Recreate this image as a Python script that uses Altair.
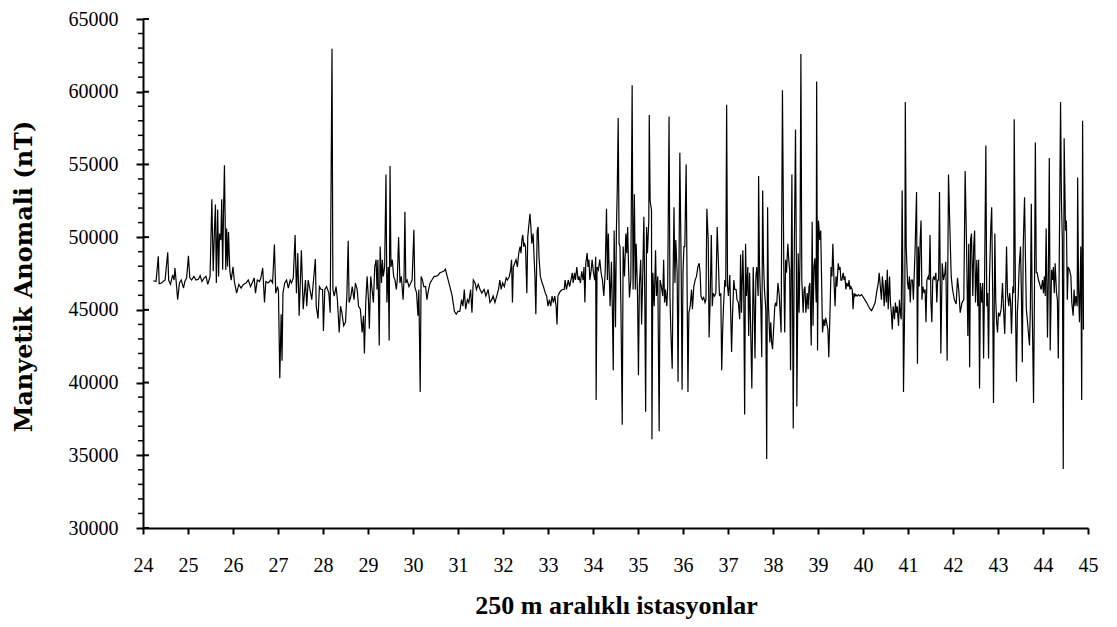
import altair as alt
import pandas as pd

# (station, anomaly nT), one list per stretch of the profile
seg_24_27 = [
    (24.23, 47000), (24.29, 46950), (24.34, 48680), (24.36, 46800), (24.41, 46850), (24.49, 47050),
    (24.55, 48950), (24.57, 47050), (24.61, 46750), (24.66, 47400), (24.69, 47050), (24.71, 47880),
    (24.74, 46850), (24.77, 45700), (24.81, 46850), (24.85, 47050), (24.90, 46500), (24.93, 46950),
    (24.97, 47200), (25.01, 48720), (25.04, 47200), (25.08, 47050), (25.13, 47300), (25.18, 47050),
    (25.23, 47100), (25.27, 47350), (25.31, 46950), (25.36, 47200), (25.40, 47300), (25.44, 46750),
    (25.49, 47300), (25.53, 52600), (25.56, 47650), (25.59, 50700), (25.61, 52250), (25.63, 46850),
    (25.66, 51900), (25.68, 47300), (25.70, 50250), (25.73, 49800), (25.75, 52600), (25.77, 47750),
    (25.79, 51850), (25.81, 54950), (25.84, 47750), (25.86, 50600), (25.88, 47980), (25.90, 50350),
    (25.93, 47650), (25.96, 47050), (26.00, 47950), (26.03, 46950), (26.08, 46150), (26.13, 46750),
    (26.18, 46500), (26.23, 46750), (26.29, 46850), (26.34, 47050), (26.39, 46600), (26.44, 46950),
    (26.47, 47200), (26.50, 46150), (26.54, 47050), (26.59, 46950), (26.62, 47200), (26.66, 47880),
    (26.70, 45500), (26.73, 46950), (26.78, 46850), (26.84, 47050), (26.88, 46850), (26.92, 49500),
    (26.95, 46150), (26.99, 46600), (27.01, 46300), (27.04, 40300), (27.07, 44700), (27.09, 41500),
    (27.11, 46150), (27.15, 46850), (27.19, 47050), (27.23, 46500), (27.27, 47050), (27.30, 46850),
    (27.34, 47200), (27.38, 50150), (27.41, 46150), (27.44, 48900), (27.47, 44600), (27.52, 49100),
    (27.56, 45050),
]

seg_27_31 = [
    (27.61, 47050), (27.64, 45250), (27.67, 47050), (27.71, 46400), (27.75, 45700), (27.79, 47050),
    (27.83, 48500), (27.85, 45250), (27.89, 44400), (27.92, 46600), (27.96, 46400), (27.99, 46400),
    (28.01, 43550), (28.04, 46400), (28.08, 46600), (28.13, 46150), (28.16, 44800), (28.20, 62950),
    (28.22, 46400), (28.25, 45950), (28.29, 46600), (28.32, 45700), (28.36, 43450), (28.39, 45250),
    (28.42, 44800), (28.46, 43900), (28.50, 44150), (28.53, 45950), (28.56, 49750), (28.58, 45500),
    (28.62, 45950), (28.65, 46600), (28.69, 45700), (28.72, 46850), (28.76, 46400), (28.79, 45250),
    (28.83, 45050), (28.87, 43450), (28.90, 44600), (28.92, 42000), (28.95, 45500), (28.98, 47300),
    (29.01, 45700), (29.03, 43700), (29.06, 47300), (29.09, 46400), (29.12, 45500), (29.15, 47950),
    (29.18, 48450), (29.20, 46400), (29.22, 48450), (29.25, 42550), (29.27, 49350), (29.30, 46850),
    (29.32, 48450), (29.34, 47300), (29.37, 47950), (29.40, 54300), (29.42, 45500), (29.45, 47950),
    (29.47, 42900), (29.49, 54900), (29.51, 47950), (29.54, 48450), (29.57, 47300), (29.60, 47050),
    (29.63, 46400), (29.65, 47050), (29.68, 50000), (29.71, 46850), (29.74, 47300), (29.78, 45700),
    (29.80, 47050), (29.82, 51750), (29.84, 46850), (29.87, 47050), (29.91, 46600), (29.95, 46850),
    (29.98, 47050), (30.02, 50500), (30.04, 46600), (30.08, 46150), (30.11, 44600), (30.13, 46400),
    (30.16, 39350), (30.18, 47300), (30.21, 47050), (30.24, 46600), (30.28, 46600), (30.31, 45700),
    (30.34, 46300), (30.38, 46850), (30.42, 47050), (30.47, 47300), (30.51, 47300), (30.56, 47400),
    (30.60, 47550), (30.64, 47600), (30.68, 47650), (30.72, 47800), (30.76, 47300), (30.82, 46600),
    (30.87, 45950), (30.92, 44900), (30.96, 44700), (31.00, 44900),
]

seg_31_34 = [
    (31.04, 44900), (31.08, 45700), (31.11, 45250), (31.14, 46400), (31.17, 45050), (31.21, 45700),
    (31.24, 45500), (31.28, 46400), (31.31, 44800), (31.34, 47050), (31.38, 46850), (31.41, 46400),
    (31.45, 46750), (31.49, 46400), (31.53, 46150), (31.58, 46400), (31.62, 45950), (31.67, 46400),
    (31.71, 45500), (31.75, 45700), (31.78, 45950), (31.82, 45500), (31.86, 45950), (31.90, 46400),
    (31.93, 47050), (31.96, 46400), (31.99, 46850), (32.03, 46600), (32.07, 47200), (32.10, 47050),
    (32.14, 47300), (32.17, 47750), (32.19, 48450), (32.21, 45500), (32.23, 47950), (32.26, 48200),
    (32.29, 48450), (32.32, 47950), (32.35, 48900), (32.38, 49350), (32.40, 48900), (32.42, 49800),
    (32.44, 50150), (32.46, 49350), (32.48, 49550), (32.50, 49350), (32.53, 46150), (32.55, 50000),
    (32.57, 50700), (32.60, 51600), (32.62, 50700), (32.64, 49550), (32.67, 50250), (32.69, 48650),
    (32.71, 47300), (32.73, 44700), (32.76, 50450), (32.78, 50700), (32.80, 48650), (32.83, 47300),
    (32.87, 46850), (32.90, 46600), (32.94, 46150), (32.97, 45950), (33.00, 45250), (33.03, 45700),
    (33.06, 45250), (33.09, 45950), (33.12, 45500), (33.15, 45950), (33.18, 45250), (33.20, 44000),
    (33.22, 45950), (33.25, 46150), (33.28, 46300), (33.32, 46400), (33.36, 46400), (33.38, 47050),
    (33.41, 46400), (33.45, 47050), (33.48, 46600), (33.51, 47050), (33.54, 47550), (33.56, 46850),
    (33.59, 47550), (33.61, 47050), (33.64, 47950), (33.67, 47050), (33.69, 47300), (33.72, 46850),
    (33.75, 47650), (33.78, 47050), (33.80, 47950), (33.82, 45500), (33.84, 48200), (33.87, 48900),
    (33.89, 47950), (33.91, 48450), (33.93, 47050), (33.96, 47750), (33.98, 48450), (34.01, 47550),
    (34.04, 47050), (34.06, 48650), (34.07, 38800), (34.09, 47950), (34.12, 47750), (34.15, 48450),
    (34.18, 47550), (34.21, 47050), (34.24, 45950), (34.27, 47550), (34.30, 51950), (34.32, 47050),
    (34.34, 50250), (34.36, 47550), (34.38, 45250), (34.41, 48300), (34.43, 45050), (34.45, 40850),
    (34.47, 50450), (34.50, 43800), (34.52, 50450), (34.54, 53400), (34.56, 58200), (34.58, 49550),
]

seg_34_38 = [
    (34.60, 49350), (34.62, 45250), (34.65, 37100), (34.67, 49350), (34.70, 47300), (34.73, 50250),
    (34.75, 48900), (34.77, 50700), (34.79, 47950), (34.81, 45850), (34.84, 47050), (34.87, 60450),
    (34.89, 46400), (34.92, 52950), (34.94, 46400), (34.96, 49550), (34.99, 45950), (35.01, 40500),
    (35.03, 46600), (35.06, 48450), (35.08, 44000), (35.10, 46600), (35.13, 51400), (35.15, 46150),
    (35.17, 38000), (35.19, 50700), (35.21, 48900), (35.24, 51150), (35.25, 58400), (35.27, 52500),
    (35.30, 51850), (35.31, 36100), (35.33, 47550), (35.36, 45250), (35.39, 49100), (35.41, 45950),
    (35.44, 47300), (35.47, 36650), (35.49, 47050), (35.52, 46600), (35.55, 45950), (35.57, 48450),
    (35.59, 45500), (35.61, 46400), (35.64, 45250), (35.66, 46600), (35.69, 58300), (35.71, 45950),
    (35.73, 43550), (35.76, 40950), (35.78, 47300), (35.80, 52050), (35.82, 46850), (35.84, 49800),
    (35.87, 47550), (35.89, 40050), (35.91, 47550), (35.93, 55800), (35.96, 47550), (35.98, 39500),
    (36.00, 47550), (36.02, 49350), (36.04, 49350), (36.07, 55000), (36.09, 47050), (36.11, 39350),
    (36.13, 44800), (36.16, 45250), (36.19, 46400), (36.21, 45050), (36.24, 46600), (36.27, 47050),
    (36.30, 47300), (36.33, 47950), (36.36, 48200), (36.38, 47550), (36.40, 45950), (36.43, 45700),
    (36.46, 45850), (36.49, 45500), (36.51, 45700), (36.53, 51950), (36.56, 49800), (36.58, 43100),
    (36.60, 45250), (36.63, 50150), (36.65, 45250), (36.67, 46150), (36.70, 45950), (36.73, 46150),
    (36.76, 50700), (36.79, 47950), (36.81, 45950), (36.84, 46150), (36.86, 40850), (36.88, 43450),
    (36.90, 45250), (36.93, 47050), (36.95, 46600), (36.97, 59100), (36.99, 46600), (37.01, 45950),
    (37.04, 47400), (37.06, 44800), (37.08, 42100), (37.10, 44600), (37.13, 47050), (37.15, 46400),
    (37.18, 46400), (37.20, 45700), (37.23, 45500), (37.26, 44350), (37.28, 48800), (37.30, 44800),
    (37.33, 49100), (37.35, 46150), (37.37, 37800), (37.39, 49550), (37.41, 45950), (37.44, 47950),
    (37.46, 43200), (37.48, 47550), (37.51, 42750), (37.53, 39600), (37.56, 47950), (37.58, 45250),
    (37.60, 41650), (37.62, 47300), (37.64, 47950), (37.67, 45950), (37.68, 54200), (37.70, 47950),
    (37.73, 45250), (37.75, 41750), (37.77, 53200), (37.79, 48200), (37.81, 46400), (37.84, 45050),
    (37.86, 34750), (37.88, 52050), (37.90, 45250), (37.93, 42750), (37.95, 44150), (37.97, 42750),
    (37.99, 42300), (38.01, 43450), (38.04, 45250), (38.06, 45500), (38.08, 45250), (38.11, 46850),
    (38.14, 45950),
]

seg_38_41 = [
    (38.18, 43450), (38.21, 60100), (38.24, 47950), (38.26, 43450), (38.28, 48450), (38.30, 47550),
    (38.33, 49550), (38.35, 48450), (38.37, 47750), (38.39, 40850), (38.42, 54300), (38.44, 42550),
    (38.45, 36850), (38.47, 47950), (38.50, 57400), (38.52, 47950), (38.53, 38350), (38.56, 48900),
    (38.58, 44800), (38.60, 48650), (38.62, 62600), (38.64, 47050), (38.67, 44800), (38.69, 46400),
    (38.71, 46600), (38.73, 44800), (38.76, 46150), (38.78, 45050), (38.80, 46600), (38.82, 46850),
    (38.85, 42550), (38.87, 51050), (38.89, 43900), (38.91, 47950), (38.93, 48550), (38.96, 45500),
    (38.97, 60700), (38.99, 42200), (39.01, 51150), (39.04, 49800), (39.06, 50450), (39.08, 47050),
    (39.10, 43450), (39.13, 44350), (39.15, 43900), (39.17, 44450), (39.19, 44150), (39.22, 43650),
    (39.24, 41750), (39.27, 45250), (39.29, 47950), (39.31, 47300), (39.33, 49550), (39.36, 46600),
    (39.38, 45250), (39.40, 47300), (39.42, 46600), (39.45, 48200), (39.47, 47750), (39.49, 47950),
    (39.51, 47050), (39.53, 47050), (39.56, 47550), (39.58, 47050), (39.60, 47300), (39.62, 46400),
    (39.64, 46850), (39.67, 46600), (39.69, 47050), (39.71, 46400), (39.73, 46600), (39.76, 46400),
    (39.78, 45050), (39.80, 46150), (39.82, 45950), (39.84, 46050), (39.87, 45950), (39.90, 46050),
    (39.93, 45950), (39.97, 46050), (40.01, 45850), (40.04, 45700), (40.08, 45500), (40.12, 45250),
    (40.16, 45050), (40.19, 44950), (40.23, 45200), (40.27, 45500), (40.30, 46150), (40.34, 46850),
    (40.36, 47550), (40.39, 46400), (40.41, 45700), (40.43, 47300), (40.45, 46600), (40.47, 45250),
    (40.50, 47050), (40.52, 45500), (40.54, 47750), (40.56, 45050), (40.59, 47300), (40.61, 45500),
    (40.63, 44800), (40.65, 43650), (40.67, 45250), (40.70, 44350), (40.72, 45500), (40.74, 44800),
    (40.76, 45250), (40.79, 43900), (40.81, 45700), (40.83, 44800), (40.85, 44350), (40.87, 53200),
    (40.89, 45500), (40.90, 39350), (40.93, 46150), (40.94, 59300), (40.96, 49350), (40.99, 46850),
    (41.01, 46400), (41.03, 47300), (41.05, 45500), (41.07, 47050), (41.10, 47050), (41.12, 45700),
    (41.14, 47550), (41.16, 49350), (41.19, 53100), (41.21, 41300), (41.23, 49350), (41.25, 46600),
    (41.27, 49800), (41.29, 51150), (41.31, 45700), (41.33, 46600), (41.36, 46150), (41.38, 46400),
    (41.40, 44150), (41.42, 47050), (41.45, 47300), (41.47, 47050), (41.49, 50150), (41.51, 45500),
    (41.53, 44150), (41.55, 47050), (41.57, 47300), (41.59, 47050), (41.62, 47550), (41.64, 45500),
    (41.66, 47050), (41.68, 47050), (41.70, 53100), (41.73, 42000), (41.76, 48200), (41.79, 47050),
    (41.82, 47550),
]

seg_41_45 = [
    (41.84, 48300), (41.87, 41500), (41.90, 54300), (41.93, 50700), (41.96, 47300), (41.99, 46400),
    (42.03, 45700), (42.07, 45400), (42.10, 47200), (42.13, 46300), (42.16, 44800), (42.20, 45500),
    (42.24, 45700), (42.27, 54550), (42.30, 49550), (42.33, 43200), (42.35, 49550), (42.37, 41050),
    (42.39, 49800), (42.41, 50250), (42.44, 45950), (42.46, 49350), (42.48, 50450), (42.50, 45500),
    (42.53, 48450), (42.55, 45250), (42.57, 48450), (42.59, 39600), (42.61, 46850), (42.64, 45500),
    (42.66, 46850), (42.68, 41650), (42.70, 46600), (42.73, 56300), (42.75, 45250), (42.77, 46150),
    (42.79, 41650), (42.81, 47050), (42.84, 50700), (42.86, 52050), (42.88, 46600), (42.90, 38600),
    (42.93, 50250), (42.95, 45700), (42.97, 44150), (42.99, 43450), (43.01, 44800), (43.04, 44600),
    (43.07, 45050), (43.10, 46850), (43.12, 45250), (43.15, 43350), (43.17, 46150), (43.19, 49350),
    (43.21, 46150), (43.24, 45250), (43.26, 46150), (43.28, 45500), (43.30, 43350), (43.33, 46600),
    (43.35, 46150), (43.36, 58100), (43.39, 45050), (43.41, 40050), (43.43, 44800), (43.45, 45950),
    (43.47, 47950), (43.50, 49350), (43.52, 46150), (43.54, 41400), (43.56, 49350), (43.59, 52750),
    (43.61, 48550), (43.63, 45050), (43.65, 44350), (43.67, 43650), (43.70, 42550), (43.72, 45250),
    (43.74, 52300), (43.76, 45250), (43.79, 38600), (43.81, 46150), (43.83, 56500), (43.85, 47550),
    (43.87, 47550), (43.90, 47050), (43.92, 46850), (43.94, 46600), (43.96, 46400), (43.99, 47050),
    (44.01, 46150), (44.03, 47300), (44.05, 45950), (44.07, 50600), (44.10, 43100), (44.12, 47550),
    (44.14, 55450), (44.16, 42200), (44.19, 47750), (44.21, 47050), (44.23, 47950), (44.25, 46150),
    (44.27, 48200), (44.30, 46150), (44.32, 45700), (44.34, 41650), (44.36, 47950), (44.39, 59300),
    (44.41, 52500), (44.43, 49800), (44.45, 34050), (44.47, 56800), (44.50, 50450), (44.52, 51150),
    (44.54, 45700), (44.56, 47950), (44.59, 47750), (44.62, 47300), (44.64, 45500), (44.67, 44600),
    (44.69, 46400), (44.71, 45250), (44.73, 45950), (44.76, 45250), (44.77, 54100), (44.79, 46400),
    (44.81, 44150), (44.84, 49350), (44.86, 38800), (44.88, 58000), (44.90, 43650),
]

x_ticks = list(range(24, 46))
y_ticks = list(range(30000, 65001, 5000))
y_minor = [v for v in range(31000, 65000, 1000) if v % 5000 != 0]

segments = [seg_24_27, seg_27_31, seg_31_34, seg_34_38, seg_38_41, seg_41_45]
rows = [pt for seg in segments for pt in seg]
df = pd.DataFrame(rows, columns=["istasyon", "anomali"])

FONT = "Liberation Serif"
xscale = alt.Scale(domain=[24, 45], nice=False, zero=False)
yscale = alt.Scale(domain=[30000, 65000], nice=False, zero=False)

y_axis = alt.Axis(
    values=y_ticks, format="d", grid=False,
    title="Manyetik Anomali (nT)",
    tickSize=7, tickWidth=2, domainWidth=2,
    labelFont=FONT, labelFontSize=20, labelPadding=18,
    labelFlush=False, labelOverlap=False,
    titleFont="DejaVu Serif", titleFontSize=24, titleFontWeight="bold",
    titleAngle=270, titleX=-112, titleY=257,
    titleBaseline="alphabetic", titleAlign="center",
)

line = alt.Chart(df).mark_line(color="black", strokeWidth=1.2).encode(
    x=alt.X(
        "istasyon:Q",
        scale=xscale,
        axis=alt.Axis(
            values=x_ticks, format="d", grid=False,
            title="250 m aralıklı istasyonlar",
            tickSize=6, tickWidth=2, domainWidth=2,
            labelFont=FONT, labelFontSize=20, labelPadding=21,
            labelFlush=False, labelOverlap=False,
            titleFont=FONT, titleFontSize=26, titleFontWeight="bold",
            titleX=473, titleY=85, titleBaseline="alphabetic", titleAlign="center",
        ),
    ),
    y=alt.Y("anomali:Q", scale=yscale, axis=y_axis),
)

minor_ticks = alt.Chart(pd.DataFrame({"anomali": y_minor})).mark_rule(
    color="black", strokeWidth=1.5
).encode(
    y=alt.Y("anomali:Q", scale=yscale, axis=y_axis),
    x=alt.value(-5),
    x2=alt.value(0),
)

major_inner = alt.Chart(pd.DataFrame({"anomali": y_ticks})).mark_rule(
    color="black", strokeWidth=2
).encode(
    y=alt.Y("anomali:Q", scale=yscale, axis=y_axis),
    x=alt.value(0),
    x2=alt.value(6),
)

chart = (
    alt.layer(line, minor_ticks, major_inner)
    .properties(
        width=945,
        height=509,
        autosize=alt.AutoSizeParams(type="none"),
        padding={"left": 135, "top": 11, "right": 20, "bottom": 91},
        background="white",
    )
    .configure_view(stroke=None)
    .configure_axis(
        domainColor="black", tickColor="black", labelColor="black", titleColor="black"
    )
)

chart.save("out.html", embed_options={"renderer": "svg", "actions": False})
